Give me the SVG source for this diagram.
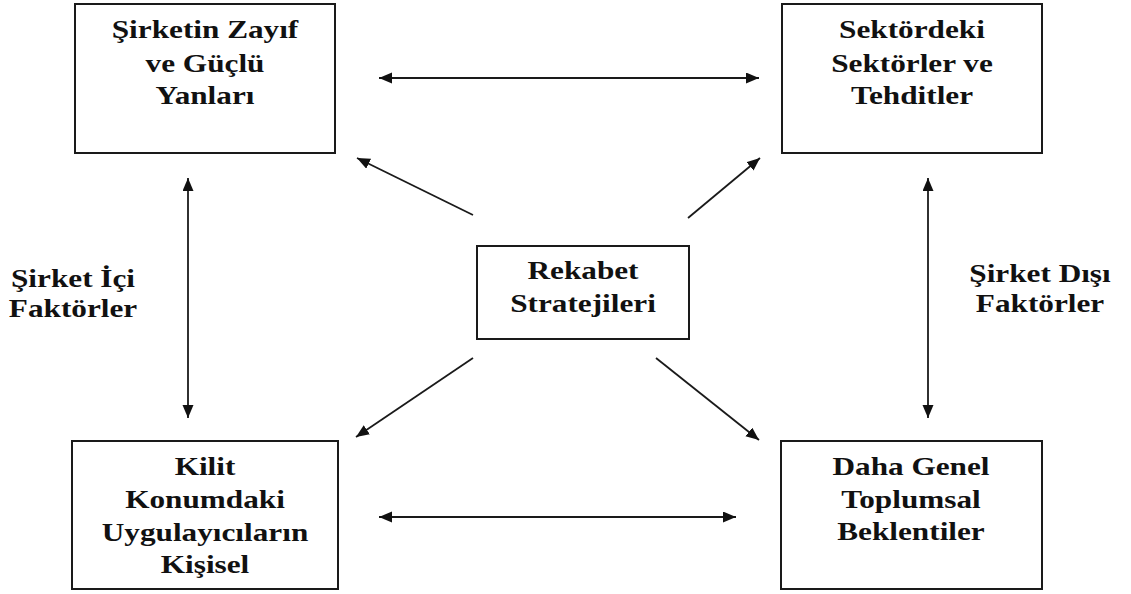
<svg xmlns="http://www.w3.org/2000/svg" width="1131" height="594" viewBox="0 0 1131 594">
<style>
.box{fill:#fff;stroke:#1a1a1a;stroke-width:2}
.t{font-family:'Liberation Serif','DejaVu Serif',serif;font-weight:700;font-size:25px;fill:#111;text-anchor:middle}
.c{stroke:#1a1a1a;stroke-width:1.8;fill:none;marker-end:url(#ah)}
.d{marker-start:url(#ah)}
</style>
<defs>
<marker id="ah" markerUnits="userSpaceOnUse" markerWidth="14" markerHeight="12" refX="13" refY="5.5" orient="auto-start-reverse">
<path d="M0,0 L13,5.5 L0,11 z" fill="#111"/>
</marker>
</defs>
<rect width="1131" height="594" fill="#fff"/>
<g id="connectors">
<line class="c d" x1="379" y1="78" x2="759" y2="78"/>
<line class="c d" x1="379" y1="517" x2="736" y2="517"/>
<line class="c d" x1="188" y1="178" x2="188" y2="418"/>
<line class="c d" x1="928" y1="178" x2="928" y2="418"/>
<line class="c" x1="473" y1="215" x2="357" y2="158"/>
<line class="c" x1="688" y1="218" x2="760" y2="158"/>
<line class="c" x1="473" y1="358" x2="356" y2="437"/>
<line class="c" x1="656" y1="358" x2="759" y2="440"/>
</g>
<g id="n-zayif">
<rect class="box" x="75" y="4" width="260" height="149"/>
<text class="t" font-family="Liberation Serif, serif" transform="translate(205,0) scale(1.25,1)"><tspan x="0" y="38">Şirketin Zayıf</tspan><tspan x="0" y="72">ve Güçlü</tspan><tspan x="0" y="104">Yanları</tspan></text>
</g>
<g id="n-sektor">
<rect class="box" x="782" y="4" width="260" height="149"/>
<text class="t" font-family="Liberation Serif, serif" transform="translate(912,0) scale(1.25,1)"><tspan x="0" y="38">Sektördeki</tspan><tspan x="0" y="72">Sektörler ve</tspan><tspan x="0" y="104">Tehditler</tspan></text>
</g>
<g id="n-rekabet">
<rect class="box" x="477" y="246" width="212" height="93"/>
<text class="t" font-family="Liberation Serif, serif" transform="translate(583,0) scale(1.25,1)"><tspan x="0" y="279">Rekabet</tspan><tspan x="0" y="312">Stratejileri</tspan></text>
</g>
<g id="n-kilit">
<rect class="box" x="72" y="441" width="266" height="148"/>
<text class="t" font-family="Liberation Serif, serif" transform="translate(205,0) scale(1.25,1)"><tspan x="0" y="475">Kilit</tspan><tspan x="0" y="508">Konumdaki</tspan><tspan x="0" y="541">Uygulayıcıların</tspan><tspan x="0" y="573">Kişisel</tspan></text>
</g>
<g id="n-toplum">
<rect class="box" x="781" y="441" width="261" height="148"/>
<text class="t" font-family="Liberation Serif, serif" transform="translate(911,0) scale(1.25,1)"><tspan x="0" y="475">Daha Genel</tspan><tspan x="0" y="508">Toplumsal</tspan><tspan x="0" y="540">Beklentiler</tspan></text>
</g>
<g id="label-ic">
<text class="t" font-family="Liberation Serif, serif" transform="translate(73,0) scale(1.25,1)"><tspan x="0" y="287">Şirket İçi</tspan><tspan x="0" y="317">Faktörler</tspan></text>
</g>
<g id="label-dis">
<text class="t" font-family="Liberation Serif, serif" transform="translate(1040,0) scale(1.25,1)"><tspan x="0" y="282">Şirket Dışı</tspan><tspan x="0" y="312">Faktörler</tspan></text>
</g>
</svg>
